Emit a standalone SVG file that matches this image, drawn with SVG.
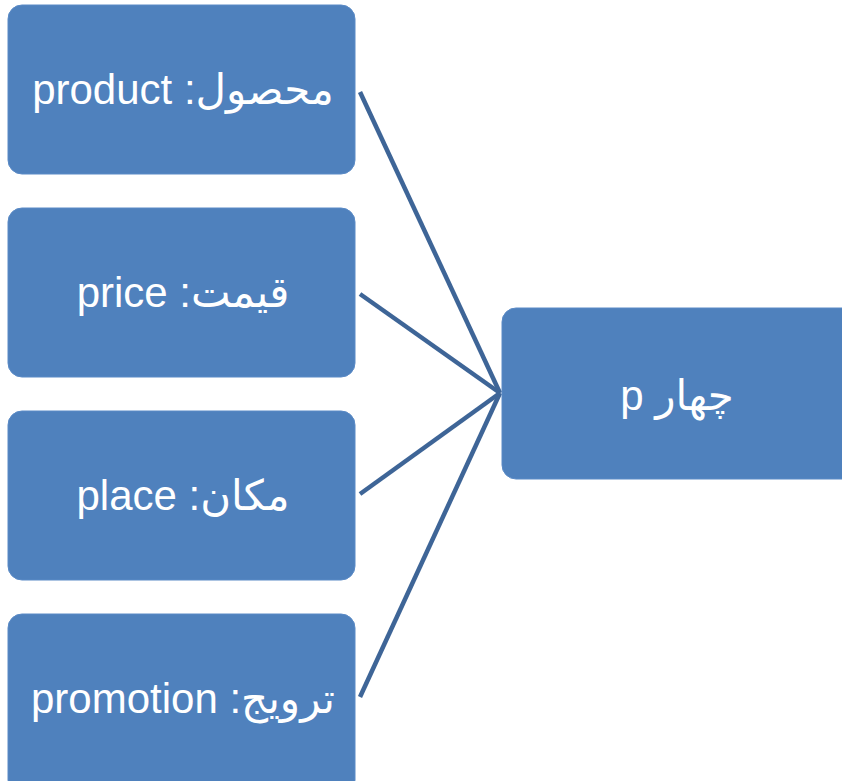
<svg xmlns="http://www.w3.org/2000/svg" width="842" height="781" viewBox="0 0 842 781">
<style>
.box{fill:#4f81bd;stroke:#5a8ac6;stroke-width:1}
.lbl{fill:#ffffff;font-family:"Liberation Sans","DejaVu Sans",sans-serif;font-size:42px;text-anchor:middle;direction:rtl}
.edge{stroke:#3e6597;stroke-width:4.5;fill:none}
</style>
<rect width="842" height="781" fill="#ffffff"/>
<g id="connectors">
<line class="edge" x1="360" y1="92" x2="500" y2="393"/>
<line class="edge" x1="360" y1="294" x2="500" y2="393"/>
<line class="edge" x1="360" y1="494" x2="500" y2="393"/>
<line class="edge" x1="360" y1="697" x2="500" y2="393"/>
</g>
<g id="n-product">
<rect class="box" x="8" y="5" width="347" height="169" rx="14"/>
<text class="lbl" x="183" y="104">محصول: product</text>
</g>
<g id="n-price">
<rect class="box" x="8" y="208" width="347" height="169" rx="14"/>
<text class="lbl" x="183" y="307">قیمت: price</text>
</g>
<g id="n-place">
<rect class="box" x="8" y="411" width="347" height="169" rx="14"/>
<text class="lbl" x="183" y="510">مکان: place</text>
</g>
<g id="n-promotion">
<rect class="box" x="8" y="614" width="347" height="180" rx="14"/>
<text class="lbl" x="183" y="713">ترویج: promotion</text>
</g>
<g id="n-4p">
<rect class="box" x="502" y="308" width="360" height="171" rx="14"/>
<text class="lbl" x="677" y="410">چهار p</text>
</g>
</svg>
